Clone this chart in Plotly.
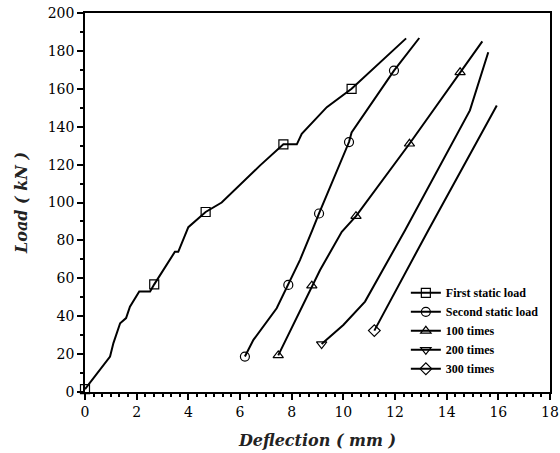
import plotly.graph_objects as go

# deflection (mm) / load (kN)
first_x = [0.0, 0.97, 1.1, 1.36, 1.59, 1.74, 2.1, 2.52, 2.68, 3.16, 3.48, 3.61, 4.0, 4.67,
           5.29, 6.78, 7.68, 8.2, 8.39, 9.36, 10.32, 12.43]
first_y = [1.5, 18.7, 25.8, 36.3, 39.0, 45.0, 53.0, 53.0, 56.8, 67.0, 74.0, 74.0, 87.0, 95.0,
           100.0, 119.6, 130.7, 130.7, 136.3, 150.3, 160.0, 186.6]
first_marks = [0, 8, 13, 16, 20]

second_x = [6.19, 6.52, 7.42, 7.87, 8.32, 8.8, 9.06, 10.22, 10.32, 11.96, 12.94]
second_y = [18.7, 27.5, 44.2, 56.5, 69.6, 85.4, 94.2, 131.9, 137.0, 169.6, 186.8]
second_marks = [0, 3, 6, 7, 9]

t100_x = [7.48, 8.78, 9.1, 9.94, 10.49, 12.56, 14.52, 15.38]
t100_y = [19.3, 56.1, 64.4, 84.5, 92.8, 131.0, 168.7, 185.0]
t100_marks = [0, 1, 4, 5, 6]

t200_x = [9.16, 10.0, 10.84, 12.39, 14.9, 15.61]
t200_y = [25.3, 35.4, 47.7, 85.4, 148.6, 179.3]
t200_marks = [0]

t300_x = [11.2, 13.29, 15.94]
t300_y = [32.4, 85.4, 151.2]
t300_marks = [0]

series = [
    ("First static load", first_x, first_y, first_marks, "square-open"),
    ("Second static load", second_x, second_y, second_marks, "circle-open"),
    ("100 times", t100_x, t100_y, t100_marks, "triangle-up-open"),
    ("200 times", t200_x, t200_y, t200_marks, "triangle-down-open"),
    ("300 times", t300_x, t300_y, t300_marks, "diamond-open"),
]

fig = go.Figure()
for name, xs, ys, marks, sym in series:
    fig.add_trace(go.Scatter(x=xs, y=ys, mode="lines", showlegend=False,
                             line=dict(color="black", width=2), legendgroup=name))
    fig.add_trace(go.Scatter(x=[xs[i] for i in marks], y=[ys[i] for i in marks],
                             mode="markers", showlegend=False, legendgroup=name,
                             cliponaxis=False,
                             marker=dict(symbol=sym, size=9, color="black",
                                         line=dict(color="black", width=1.2))))
    # legend entry only
    fig.add_trace(go.Scatter(x=[None], y=[None], mode="lines+markers", name=name,
                             legendgroup=name,
                             line=dict(color="black", width=2),
                             marker=dict(symbol=sym, size=9, color="black",
                                         line=dict(color="black", width=1.2))))

axis_common = dict(
    showgrid=False, zeroline=False, showline=True, linecolor="black", linewidth=1.5,
    mirror=True, ticks="outside", ticklen=6, tickwidth=1.5, tickcolor="black",
    automargin=False, ticklabeloverflow="allow",
    tickfont=dict(family="DejaVu Serif", size=14, color="black"),
)

fig.update_xaxes(range=[0, 18], tickmode="linear", tick0=0, dtick=2,
                 minor=dict(dtick=2 / 6, ticks="outside", ticklen=3, tickcolor="black"),
                 title=dict(text="<b><i>Deflection ( mm )</i></b>", standoff=16,
                            font=dict(family="DejaVu Serif", size=16, color="#222")),
                 **axis_common)
fig.update_yaxes(range=[0, 200], tickmode="linear", tick0=0, dtick=20,
                 minor=dict(dtick=10, ticks="outside", ticklen=3, tickcolor="black"),
                 title=dict(text="<b><i>Load ( kN )</i></b>", standoff=16,
                            font=dict(family="DejaVu Serif", size=16, color="#222")),
                 **axis_common)

fig.update_layout(
    width=560, height=453,
    margin=dict(l=85, r=10, t=13, b=61),
    plot_bgcolor="white", paper_bgcolor="white",
    legend=dict(x=0.69, y=0.3, xanchor="left", yanchor="top",
                bgcolor="rgba(0,0,0,0)", tracegroupgap=0, itemwidth=30,
                font=dict(family="Liberation Serif", size=12, color="black",
                          weight="bold"),
                ),
)

# drop the default 8px body margin so the figure fills the window
fig.write_html("out.html", config={"displayModeBar": False},
               post_script="document.body.style.margin = '0';")
